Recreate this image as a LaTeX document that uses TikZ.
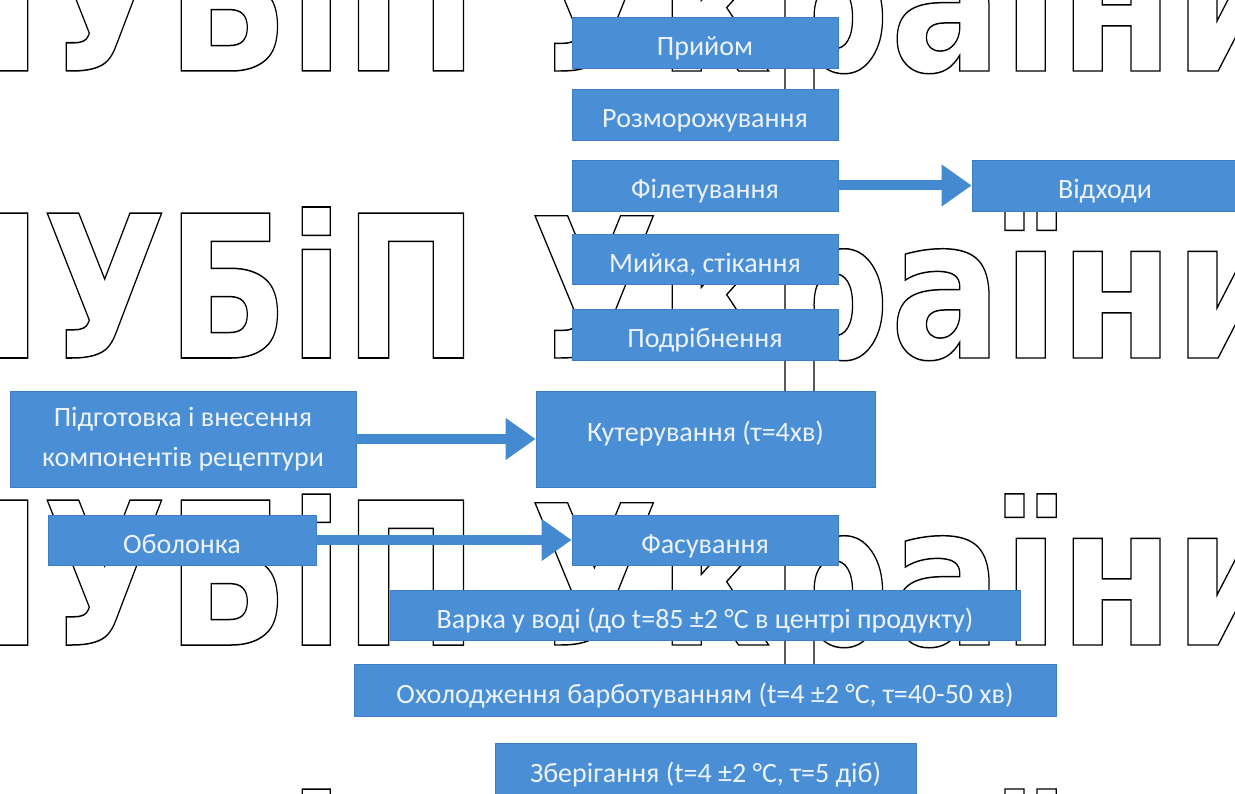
\documentclass[tikz,border=0pt]{standalone}
\usepackage{fontspec}
\setmainfont{Carlito}
\newfontfamily\wmfont{DejaVu Sans}
\usetikzlibrary{arrows.meta}
\definecolor{boxblue}{RGB}{74,143,214}
\definecolor{boxline}{RGB}{60,125,196}
\definecolor{boxtext}{RGB}{236,243,251}
\definecolor{arrowblue}{RGB}{68,138,208}
\newcommand\wmoutline[1]{\special{pdf:literal direct 1 Tr 1.5 w}#1\special{pdf:literal direct 0 Tr}}
\begin{document}
\begin{tikzpicture}[x=1pt,y=-1pt,
  procbox/.style={draw=boxline, line width=0.8pt, fill=boxblue, text=boxtext,
    inner sep=0pt, font=\fontsize{28}{40}\selectfont, align=center,
    text height=26pt, text depth=0pt},
  wmtext/.style={anchor=base west, inner sep=0pt, text=black, font=\wmfont\bfseries\fontsize{199}{199}\selectfont},
  flowarrow/.style={draw=arrowblue, line width=10pt, -{Triangle[length=30pt,width=40pt]}}]
\useasboundingbox (0,0) rectangle (1235,794);
\fill[white] (0,0) rectangle (1235,794);
% watermark
\foreach \r/\yb in {1/71,2/358,3/645,4/940}{
  \node[wmtext] (wma\r) at (-92,\yb) {\wmoutline{\resizebox{570pt}{151pt}{НУБіП}}};
  \node[wmtext] (wmb\r) at (530,\yb) {\wmoutline{\resizebox{760pt}{151pt}{України}}};
}
% boxes
\node[procbox, minimum width=266pt, minimum height=51pt] (priyom) at (705,42.5) {Прийом};
\node[procbox, minimum width=266pt, minimum height=51pt] (rozmor) at (705,114.5) {Розморожування};
\node[procbox, minimum width=266pt, minimum height=51pt] (filet) at (705,185.5) {Філетування};
\node[procbox, minimum width=266pt, minimum height=51pt] (vidkh) at (1105,185.5) {Відходи};
\node[procbox, minimum width=266pt, minimum height=50pt] (myika) at (705,259.5) {Мийка, стікання};
\node[procbox, minimum width=266pt, minimum height=51pt] (podrib) at (705,334.5) {Подрібнення};
\node[procbox, minimum width=339pt, minimum height=96pt, text height=4pt] (kuter) at (705.5,439) {Кутерування (τ=4хв)};
\node[procbox, minimum width=346pt, minimum height=96pt, text height={}, text depth={}] (pidg) at (183,439) {Підготовка і внесення\\компонентів рецептури};
\node[procbox, minimum width=268pt, minimum height=50pt] (obol) at (182,540) {Оболонка};
\node[procbox, minimum width=266pt, minimum height=50pt] (fasuv) at (705,540) {Фасування};
\node[procbox, minimum width=630pt, minimum height=50pt] (varka) at (705,615) {Варка у воді (до t=85 ±2 °C в центрі продукту)};
\node[procbox, minimum width=702pt, minimum height=52pt] (okhol) at (705,690) {Охолодження барботуванням (t=4 ±2 °C, τ=40-50 хв)};
\node[procbox, minimum width=421pt, minimum height=52pt] (zber) at (705.5,769) {Зберігання (t=4 ±2 °C, τ=5 діб)};
% arrows
\draw[flowarrow] (filet.east) -- (vidkh.west);
\draw[flowarrow] (pidg.east) -- (kuter.west);
\draw[flowarrow] (obol.east) -- (fasuv.west);
\end{tikzpicture}
\end{document}
